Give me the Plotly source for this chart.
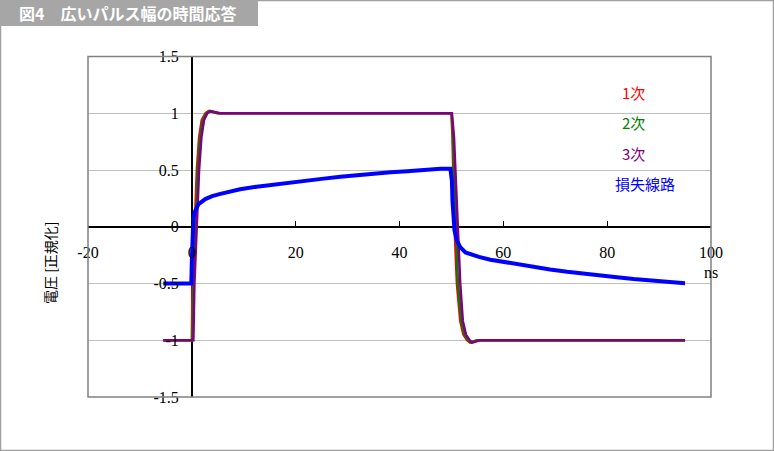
import plotly.graph_objects as go

W, H = 774, 451

# --- data (time in ns, normalised voltage) ---
first_t = [-5.5, 0, 0.13, 0.5, 0.96, 1.4, 1.9, 2.6, 3.2, 5,
           50, 50.2, 50.6, 51.05, 51.7, 52.3, 53, 53.6, 55, 95]
first_v = [-1, -1, -0.5, 0, 0.5, 0.79, 0.94, 1.0, 1.02, 1.0,
           1.0, 0.79, 0, -0.5, -0.83, -0.95, -1.0, -1.02, -1.0, -1.0]

second_t = [-5.5, 0.1, 0.3, 0.7, 1.15, 1.6, 2.1, 2.8, 3.4, 5,
            50.05, 50.3, 50.8, 51.25, 51.9, 52.5, 53.2, 53.8, 55, 95]
second_v = [-1, -1, -0.5, 0, 0.5, 0.79, 0.94, 1.0, 1.02, 1.0,
            1.0, 0.79, 0, -0.5, -0.83, -0.95, -1.0, -1.02, -1.0, -1.0]

third_t = [-5.5, 0.3, 0.5, 0.95, 1.4, 1.85, 2.35, 3.0, 3.6, 5.5,
           50.1, 50.5, 51.2, 51.7, 52.2, 52.8, 53.5, 54.0, 55.5, 95]
third_v = [-1, -1, -0.5, 0, 0.5, 0.79, 0.94, 1.0, 1.02, 1.0,
           1.0, 0.79, 0, -0.5, -0.83, -0.95, -1.0, -1.02, -1.0, -1.0]

lossy_t = [-5.5, -0.1, 0.0, 0.1, 0.3, 0.64, 1.3, 2.6, 3.9, 5.5, 7.4, 9.3,
           12.5, 15.8, 19, 22.2, 25.4, 28.6, 31.8, 35, 38.3, 41.5, 44.7,
           47.9, 49.8, 50.1, 50.2, 50.4, 50.6, 51.05, 51.7, 52.7, 54, 55.3,
           57.5, 60, 62.6, 65.8, 69, 72.3, 75.5, 78.7, 81.9, 85.1, 88.3,
           91.5, 95]
lossy_v = [-0.5, -0.5, -0.3, -0.1, 0.08, 0.14, 0.2, 0.244, 0.27, 0.29, 0.31,
           0.33, 0.353, 0.373, 0.394, 0.41, 0.424, 0.44, 0.456, 0.47, 0.48,
           0.49, 0.503, 0.51, 0.51, 0.4, 0.23, 0.08, -0.035, -0.12, -0.18,
           -0.226, -0.247, -0.265, -0.29, -0.31, -0.33, -0.356, -0.376,
           -0.397, -0.415, -0.43, -0.444, -0.46, -0.474, -0.485, -0.497]

series_names = ["1次", "2次", "3次", "損失線路"]
series_colors = ["#FF0000", "#008000", "#800080", "#0000FF"]
x_ticks = [-20, 0, 20, 40, 60, 80, 100]
y_ticks = [-1.5, -1, -0.5, 0, 0.5, 1, 1.5]
title_text = "図4　広いパルス幅の時間応答"
y_title = "電圧 [正規化]"
x_unit = "ns"


def px_x(p):
    return p / W


def px_y(p):
    return 1 - p / H


# plot area in pixels
left, right, top, bottom = 88, 711, 56.5, 397
x_range = [-20, 100]
y_range = [-1.5, 1.5]

fig = go.Figure()
series = [(first_t, first_v), (second_t, second_v),
          (third_t, third_v), (lossy_t, lossy_v)]
widths = [2.5, 2.5, 2.5, 4]
for (t, v), name, color, w in zip(series, series_names, series_colors, widths):
    fig.add_trace(go.Scatter(x=t, y=v, mode="lines", name=name,
                             line=dict(color=color, width=w)))

# where the zero lines sit, in paper coords
x0_paper = px_x(left + (right - left) * (0 - x_range[0]) / (x_range[1] - x_range[0]))
y0_paper = px_y(bottom - (bottom - top) * (0 - y_range[0]) / (y_range[1] - y_range[0]))

tick_font = dict(family="Liberation Serif", size=16, color="black")
fig.update_layout(
    width=W, height=H,
    margin=dict(l=0, r=0, t=0, b=0, pad=0, autoexpand=False),
    paper_bgcolor="white", plot_bgcolor="white",
    showlegend=False,
    xaxis=dict(domain=[px_x(left), px_x(right)], range=x_range,
               tickvals=x_ticks, ticktext=[str(v) for v in x_ticks],
               anchor="free", position=y0_paper,
               showgrid=False, showline=False,
               zeroline=True, zerolinecolor="black", zerolinewidth=1.5,
               ticks="inside", ticklen=6, tickcolor="black",
               ticklabelstandoff=14, tickfont=tick_font),
    yaxis=dict(domain=[px_y(bottom), px_y(top)], range=y_range,
               tickvals=y_ticks, ticktext=["%g" % v for v in y_ticks],
               anchor="free", position=x0_paper,
               showgrid=True, gridcolor="#C0C0C0", gridwidth=1,
               showline=False,
               zeroline=True, zerolinecolor="black", zerolinewidth=1.5,
               ticks="", ticklabelstandoff=13, tickfont=tick_font),
)

# plot area border, outer frame and header bar
fig.add_shape(type="rect", xref="paper", yref="paper",
              x0=px_x(left), x1=px_x(right), y0=px_y(bottom), y1=px_y(top),
              line=dict(color="#808080", width=1.5))
fig.add_shape(type="rect", xref="paper", yref="paper",
              x0=0, x1=1, y0=0, y1=1,
              line=dict(color="#A0A0A0", width=2.5))
fig.add_shape(type="rect", xref="paper", yref="paper",
              x0=0, x1=px_x(258), y0=px_y(26), y1=1,
              line=dict(width=0), fillcolor="#A6A6A6")

fig.add_annotation(text="<b>" + title_text + "</b>", xref="paper", yref="paper",
                   x=px_x(17), y=px_y(13), xanchor="left", yanchor="middle",
                   showarrow=False,
                   font=dict(family="Noto Sans CJK JP", size=16, color="white"))
fig.add_annotation(text=y_title, xref="paper", yref="paper",
                   x=px_x(50), y=px_y(262), xanchor="center", yanchor="middle",
                   textangle=-90, showarrow=False,
                   font=dict(family="Noto Sans CJK JP", size=14, color="black"))
fig.add_annotation(text=x_unit, xref="paper", yref="paper",
                   x=px_x(711), y=px_y(272), xanchor="center", yanchor="middle",
                   showarrow=False, font=tick_font)

# labels in place of a legend
label_pos = [(633, 92), (633, 122), (633, 153), (645, 183)]
for name, color, (lx, ly) in zip(series_names, series_colors, label_pos):
    fig.add_annotation(text=name, xref="paper", yref="paper",
                       x=px_x(lx), y=px_y(ly), xanchor="center", yanchor="middle",
                       showarrow=False,
                       font=dict(family="Noto Sans CJK JP", size=15, color=color))

# drop the browser's default page margin so the figure sits at the corner
fig.write_html("out.html", config={"displayModeBar": False},
               post_script="document.body.style.margin = '0';")
